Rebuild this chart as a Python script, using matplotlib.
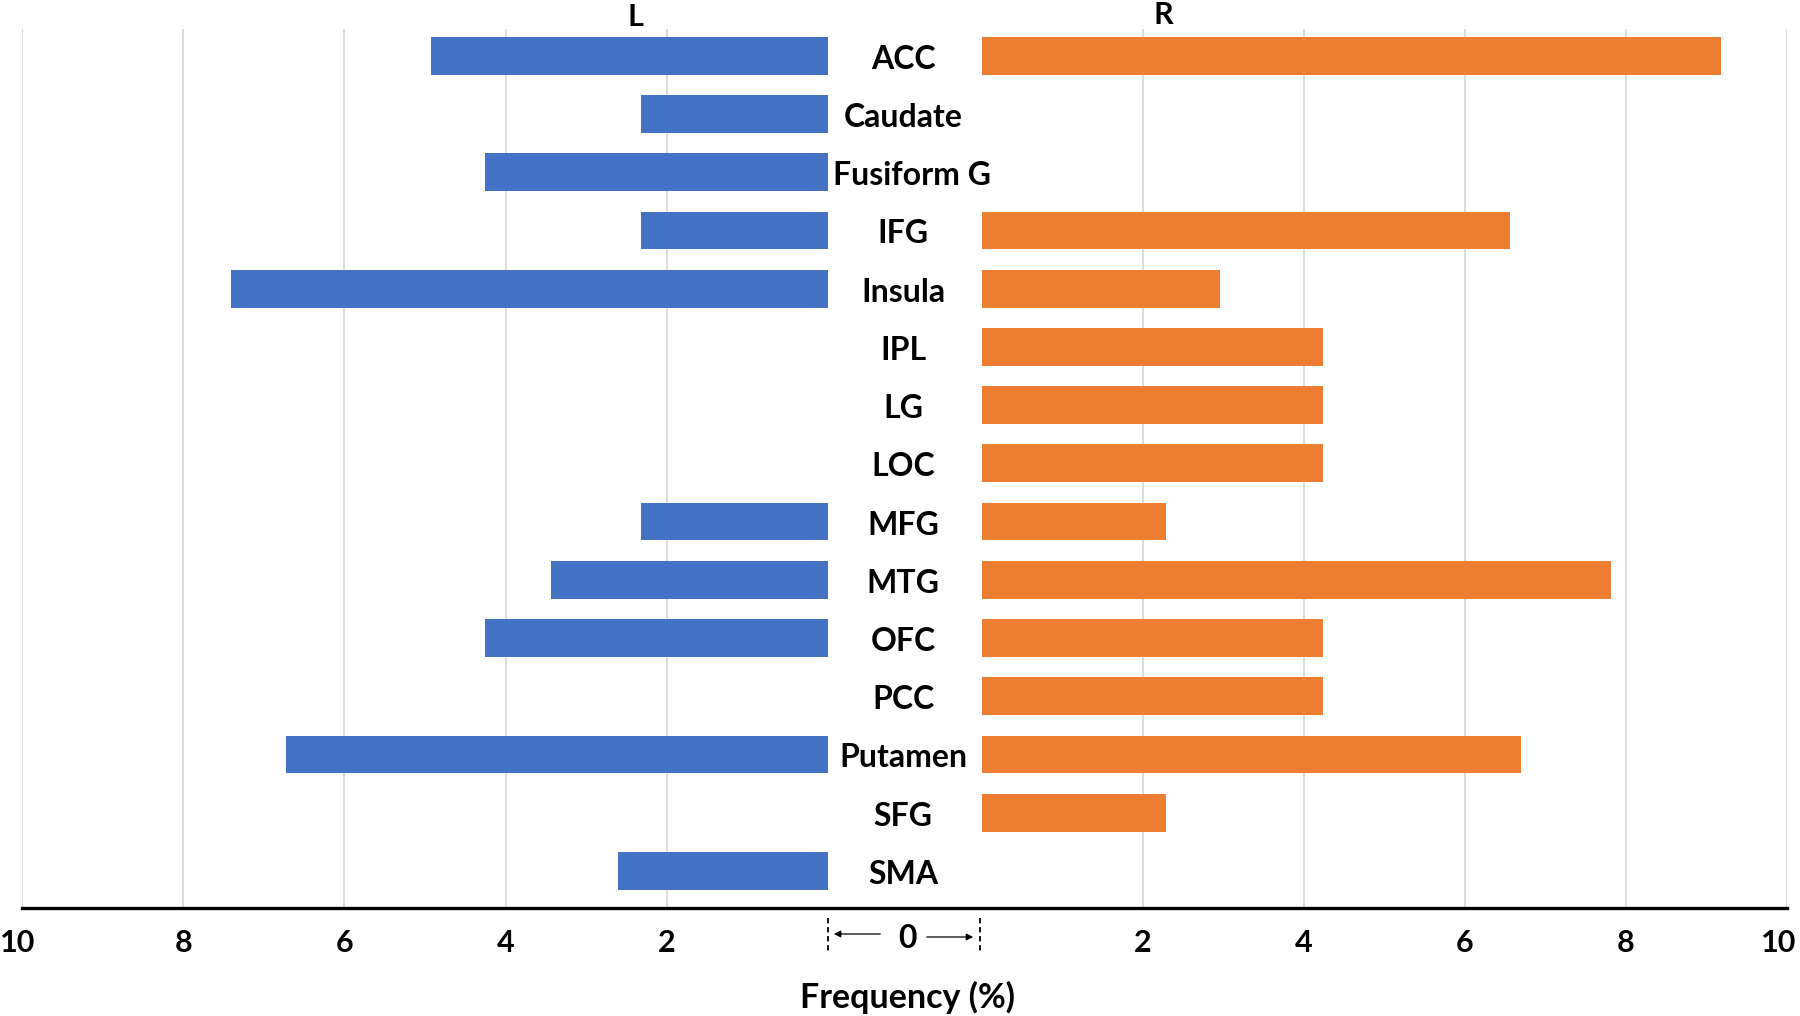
import matplotlib
matplotlib.use("Agg")
import matplotlib.pyplot as plt
import matplotlib.transforms as mtransforms
from matplotlib.lines import Line2D
import numpy as np

# data (frequency, %)
regions = ["ACC", "Caudate", "Fusiform G", "IFG", "Insula", "IPL", "LG", "LOC",
           "MFG", "MTG", "OFC", "PCC", "Putamen", "SFG", "SMA"]
left_freq = [4.93, 2.32, 4.26, 2.32, 7.41, 0, 0, 0,
             2.32, 3.44, 4.26, 0, 6.72, 0, 2.61]
right_freq = [9.18, 0, 0, 6.56, 2.96, 4.24, 4.24, 4.24,
              2.29, 7.81, 4.24, 4.24, 6.70, 2.29, 0]
left_ticks = [10, 8, 6, 4, 2]
right_ticks = [2, 4, 6, 8, 10]

plt.rcParams['font.family'] = ['Lato', 'DejaVu Sans']
plt.rcParams['font.weight'] = 'bold'

W, H = 1800, 1016
fig = plt.figure(figsize=(W / 100, H / 100), dpi=100)

def fy(py):
    return 1 - py / H

top, bottom = 29, 907
axL = fig.add_axes([22 / W, fy(bottom), (828 - 22) / W, (bottom - top) / H])
axR = fig.add_axes([982 / W, fy(bottom), (1787 - 982) / W, (bottom - top) / H])

y = np.arange(len(regions))
axL.barh(y, left_freq, height=0.65, color='#4472C4', zorder=3)
axR.barh(y, right_freq, height=0.65, color='#ED7D31', zorder=3)

axL.set_xlim(10, 0)
axR.set_xlim(0, 10)
for ax, ticks in ((axL, left_ticks), (axR, right_ticks)):
    ax.set_ylim(14.62, -0.46)
    ax.set_xticks(ticks)
    ax.set_xticklabels([str(t) for t in ticks], fontsize=22, fontweight='bold')
    ax.set_yticks([])
    ax.tick_params(axis='x', length=0, pad=16)
    for s in ax.spines.values():
        s.set_visible(False)
    ax.grid(axis='x', color='#DDDDDD', lw=1.4, zorder=0)
    ax.set_axisbelow(True)
    ax.patch.set_alpha(0)

# pull the outer "10" labels in a little so they stay on the canvas
for lab in axR.get_xticklabels():
    if lab.get_text() == "10":
        lab.set_transform(lab.get_transform() + mtransforms.ScaledTranslation(-6 / 72, 0, fig.dpi_scale_trans))
for lab in axL.get_xticklabels():
    if lab.get_text() == "10":
        lab.set_transform(lab.get_transform() + mtransforms.ScaledTranslation(-3 / 72, 0, fig.dpi_scale_trans))

# black axis line across both halves
fig.add_artist(Line2D([22 / W, 1787 / W], [fy(908), fy(908)], color='black', lw=2.4))

# region labels in the middle
tr = mtransforms.blended_transform_factory(fig.transFigure, axL.transData)
for i, name in enumerate(regions):
    xc = 903
    if name == "Fusiform G":
        xc = 912  # long label, keep it clear of the blue bar
    fig.text(xc / W, i + 0.06, name, transform=tr, ha='center', va='center',
             fontsize=23, fontweight='bold', zorder=5)

fig.text(635 / W, fy(17), "L", ha='center', va='center', fontsize=22, fontweight='bold')
fig.text(1163 / W, fy(15), "R", ha='center', va='center', fontsize=22, fontweight='bold')

# the shared zero in the gap
for xp in (828, 980):
    fig.add_artist(Line2D([xp / W, xp / W], [fy(918), fy(951)], color='black',
                          lw=1.3, ls=(0, (3, 2))))
fig.text(907 / W, fy(938), "0", ha='center', va='center', fontsize=23, fontweight='bold')
fig.add_artist(matplotlib.patches.FancyArrowPatch((883 / W, fy(934)), (831 / W, fy(934)),
               transform=fig.transFigure, arrowstyle='-|>', mutation_scale=10, lw=0.9, color='black'))
fig.add_artist(matplotlib.patches.FancyArrowPatch((924 / W, fy(937)), (976 / W, fy(937)),
               transform=fig.transFigure, arrowstyle='-|>', mutation_scale=10, lw=0.9, color='black'))

fig.text(907 / W, fy(997), "Frequency (%)", ha='center', va='center', fontsize=24.5, fontweight='bold')

fig.savefig("out.png", dpi=100, facecolor='white')
